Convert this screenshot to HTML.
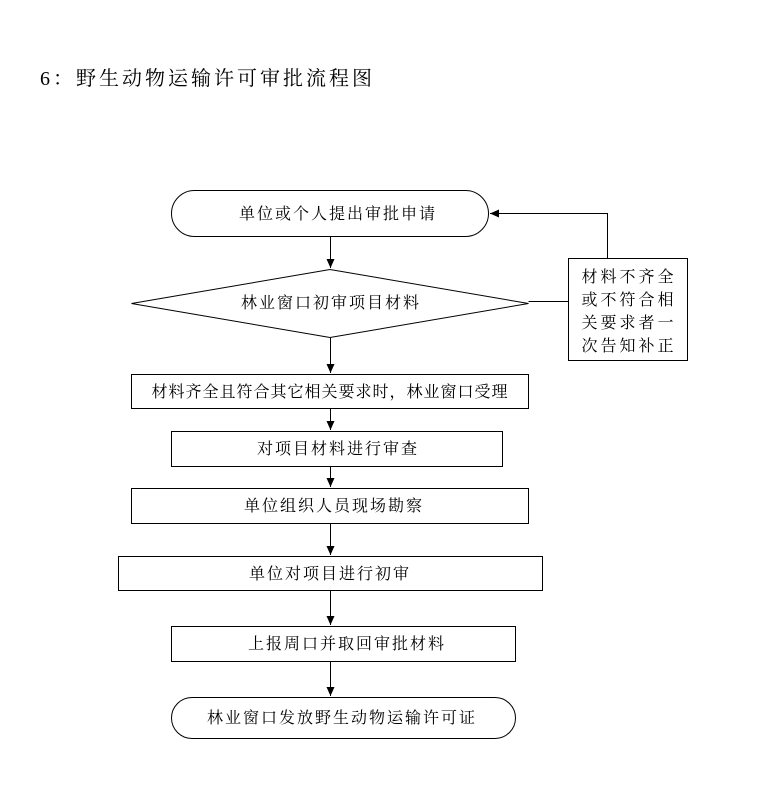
<!DOCTYPE html>
<html><head><meta charset="utf-8"><style>
body{margin:0;background:#fff;width:765px;height:781px;overflow:hidden}
svg text{font-family:"Liberation Serif","Noto Serif CJK SC","Noto Sans CJK SC",serif;fill:#000}
</style></head><body>
<svg width="765" height="781" viewBox="0 0 765 781" xmlns="http://www.w3.org/2000/svg">
<defs><marker id="a" markerWidth="10" markerHeight="10" refX="9" refY="5" orient="auto" markerUnits="userSpaceOnUse"><path d="M0,1 L9,5 L0,9 Z" fill="#000"/></marker></defs>
<text x="40" y="85" font-size="20" letter-spacing="3">6：野生动物运输许可审批流程图</text>
<g fill="none" stroke="#000" stroke-width="1">
<rect x="171.5" y="190.5" width="317" height="46" rx="23" ry="23"/>
<path d="M131.5,303.5 L330,269.5 L528.5,303.5 L330,337.5 Z"/>
<rect x="568.5" y="258.5" width="119" height="102"/>
<rect x="131.5" y="374.5" width="397" height="34"/>
<rect x="171.5" y="431.5" width="331" height="35"/>
<rect x="131.5" y="488.5" width="397" height="35"/>
<rect x="118.5" y="556.5" width="424" height="34"/>
<rect x="171.5" y="626.5" width="344" height="35"/>
<rect x="171.5" y="697.5" width="344" height="41" rx="20.5" ry="20.5"/>
<path d="M528.5,301.5 H568.5"/>
<path d="M607.5,258.5 V213.5 H490" marker-end="url(#a)"/>
<path d="M330.5,237 V268" marker-end="url(#a)"/>
<path d="M330.5,338 V373" marker-end="url(#a)"/>
<path d="M330.5,409 V430" marker-end="url(#a)"/>
<path d="M330.5,467 V487" marker-end="url(#a)"/>
<path d="M330.5,524 V555" marker-end="url(#a)"/>
<path d="M330.5,591 V625" marker-end="url(#a)"/>
<path d="M330.5,662 V696" marker-end="url(#a)"/>
</g>
<g font-size="16" text-anchor="middle" letter-spacing="2">
<text x="338" y="219">单位或个人提出审批申请</text>
<text x="331" y="308">林业窗口初审项目材料</text>
<text x="330" y="397" letter-spacing="1">材料齐全且符合其它相关要求时，林业窗口受理</text>
<text x="338" y="454">对项目材料进行审查</text>
<text x="334" y="511">单位组织人员现场勘察</text>
<text x="330" y="579">单位对项目进行初审</text>
<text x="347" y="649">上报周口并取回审批材料</text>
<text x="342" y="723">林业窗口发放野生动物运输许可证</text>
</g>
<g font-size="16" text-anchor="middle" letter-spacing="3">
<text x="629" y="282">材料不齐全</text>
<text x="629" y="305">或不符合相</text>
<text x="629" y="328">关要求者一</text>
<text x="629" y="351">次告知补正</text>
</g>
</svg>
</body></html>
